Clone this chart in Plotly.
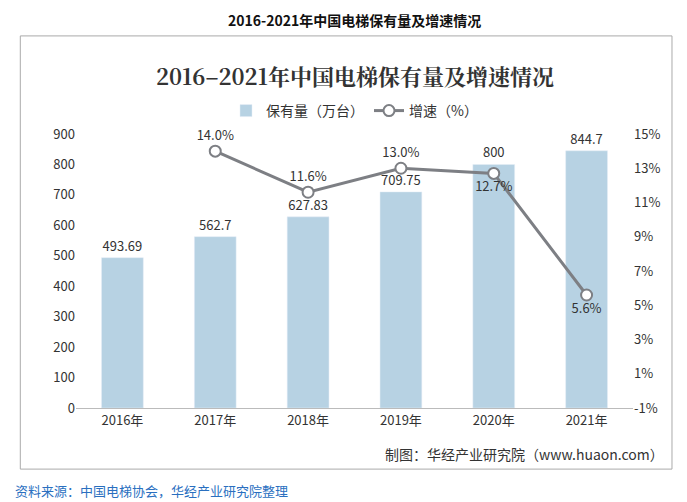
import plotly.graph_objects as go

years = ["2016年", "2017年", "2018年", "2019年", "2020年", "2021年"]
stock = [493.69, 562.7, 627.83, 709.75, 800, 844.7]
growth_years = ["2017年", "2018年", "2019年", "2020年", "2021年"]
growth = [14.0, 11.6, 13.0, 12.7, 5.6]
growth_labels = ["14.0%", "11.6%", "13.0%", "12.7%", "5.6%"]
stock_labels = ["493.69", "562.7", "627.83", "709.75", "800", "844.7"]
right_ticks = [-1, 1, 3, 5, 7, 9, 11, 13, 15]

fig = go.Figure()
fig.add_trace(go.Bar(x=years, y=stock, name="保有量（万台）", marker_color="#b7d2e3",
                     width=0.45, text=stock_labels, textposition="outside",
                     textfont=dict(size=13, color="#333"), cliponaxis=False))
fig.add_trace(go.Scatter(x=growth_years, y=growth, name="增速（%）", yaxis="y2",
                         mode="lines+markers+text", line=dict(color="#7d7f84", width=3),
                         marker=dict(size=11, color="white", line=dict(color="#7d7f84", width=2)),
                         text=growth_labels, textposition=["top center", "top center", "top center", "bottom center", "bottom center"],
                         textfont=dict(size=13, color="#333"), cliponaxis=False))

fig.update_layout(
    width=687, height=502, paper_bgcolor="white", plot_bgcolor="white",
    font=dict(family="Noto Sans CJK SC", color="#333"),
    margin=dict(l=68, r=62, t=126, b=102),
    showlegend=True,
    legend=dict(orientation="h", x=0.5, xanchor="center", y=1.084, yanchor="middle",
                font=dict(size=14)),
    xaxis=dict(showline=True, linecolor="#bbb", tickfont=dict(size=13), ticks=""),
    yaxis=dict(range=[0, 900], dtick=100, showgrid=False, tickfont=dict(size=13), zeroline=False),
    yaxis2=dict(overlaying="y", side="right", range=[-1, 15], tickvals=right_ticks,
                ticktext=[f"{v}%" for v in right_ticks], showgrid=False, tickfont=dict(size=13)),
    shapes=[dict(type="rect", xref="paper", yref="paper", x0=-0.10, x1=1.07, y0=-0.223, y1=1.358,
                 line=dict(color="#aaa", width=1))],
    annotations=[
        dict(text="<b>2016-2021年中国电梯保有量及增速情况</b>", xref="paper", yref="paper",
             x=0.5, y=1.415, yanchor="middle", xanchor="center", showarrow=False,
             font=dict(size=14, color="#111")),
        dict(text="<b>2016–2021年中国电梯保有量及增速情况</b>", xref="paper", yref="paper",
             x=0.5, y=1.212, yanchor="middle", showarrow=False,
             font=dict(size=22, family="Noto Serif CJK SC, Noto Sans CJK SC", color="#333")),
        dict(text="制图：华经产业研究院（www.huaon.com）", xref="paper", yref="paper",
             x=1.06, y=-0.168, xanchor="right", yanchor="middle", showarrow=False,
             font=dict(size=14, color="#333")),
        dict(text="资料来源：中国电梯协会，华经产业研究院整理", xref="paper", yref="paper",
             x=-0.113, y=-0.30, xanchor="left", yanchor="middle", showarrow=False,
             font=dict(size=13, color="#2a6fbf")),
    ],
)
fig.write_html("out.html")
